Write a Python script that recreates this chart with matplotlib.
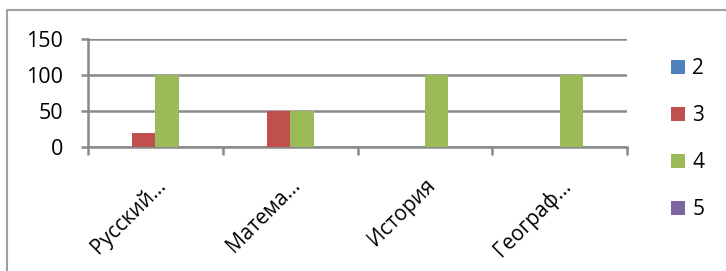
import matplotlib.pyplot as plt
from matplotlib.lines import Line2D
import numpy as np

plt.rcParams['font.family'] = ['Open Sans', 'DejaVu Sans']

# chart data
subjects = ['Русский…', 'Матема…', 'История', 'Географ…']
grades = ['2', '3', '4', '5']
grade_2 = [0, 0, 0, 0]
grade_3 = [20, 50, 0, 0]
grade_4 = [100, 50, 100, 100]
grade_5 = [0, 0, 0, 0]
colors = ['#4F81BD', '#C0504D', '#9BBB59', '#8064A2']

W, H = 726, 271
GRAY = '#898989'

def main():
    fig = plt.figure(figsize=(W / 100, H / 100), dpi=100)
    ax = fig.add_axes([88 / W, 1 - 147 / H, (627 - 88) / W, (147 - 39) / H])

    # outer chart frame (top and left edges visible)
    fig.add_artist(Line2D([6.5 / W, 6.5 / W, 1.0], [0.0, 1 - 10 / H, 1 - 10 / H],
                          transform=fig.transFigure, color='#A0A0A0', linewidth=1.5))

    x = np.arange(len(subjects))
    w = 0.175
    series = [grade_2, grade_3, grade_4, grade_5]
    for i, (vals, c) in enumerate(zip(series, colors)):
        ax.bar(x + (i - 1.5) * w, vals, width=w, color=c, label=grades[i], zorder=3)

    ax.set_xlim(-0.5, len(subjects) - 0.5)
    ax.set_ylim(0, 150)
    ax.set_yticks([0, 50, 100, 150])
    ax.yaxis.grid(True, color=GRAY, linewidth=1.8, zorder=0)
    for s in ['top', 'right']:
        ax.spines[s].set_visible(False)
    for s in ['left', 'bottom']:
        ax.spines[s].set_color(GRAY)
        ax.spines[s].set_linewidth(1.8)

    # category boundaries get the tick marks, labels sit at centers
    ax.set_xticks(np.arange(len(subjects) + 1) - 0.5)
    ax.set_xticklabels([])
    ax.set_xticks(x, minor=True)
    ax.set_xticklabels(subjects, minor=True, rotation=45, ha='right',
                       rotation_mode='anchor', fontsize=15)
    ax.tick_params(axis='x', which='minor', length=0, pad=20)
    ax.tick_params(axis='x', which='major', length=6, color=GRAY, width=1.8)
    ax.tick_params(axis='y', length=5, color=GRAY, width=1.8, labelsize=15.5, pad=13)

    ax.legend(loc='upper left', bbox_to_anchor=(671 / W, 1 - 58 / H),
              bbox_transform=fig.transFigure, frameon=False, borderpad=0,
              borderaxespad=0, fontsize=15, handlelength=0.68, handleheight=0.65,
              handletextpad=0.35, labelspacing=1.25)

    fig.savefig('out.png', dpi=100)

if __name__ == "__main__":
    main()
